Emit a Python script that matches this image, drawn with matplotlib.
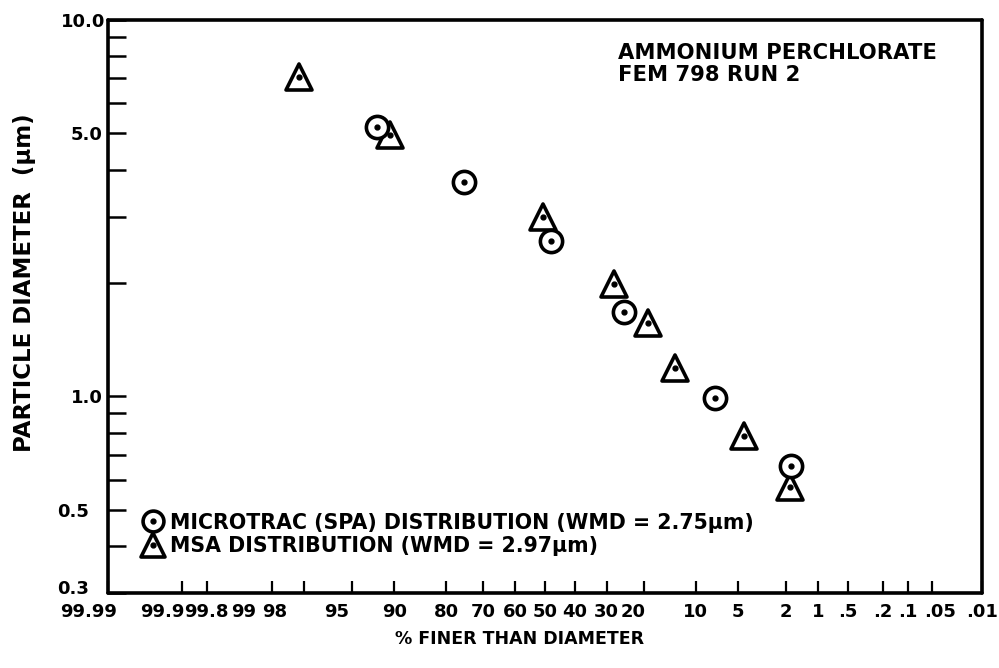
import numpy as np
import matplotlib
matplotlib.use("Agg")
import matplotlib.pyplot as plt
from matplotlib.lines import Line2D
from matplotlib.markers import MarkerStyle
from matplotlib.transforms import ScaledTranslation
from statistics import NormalDist

# % finer than diameter (probability scale) and particle diameter (um)
microtrac_pct = [92.3, 75.6, 48.0, 25.2, 7.4, 1.8]
microtrac_um = [5.19, 3.72, 2.58, 1.67, 0.99, 0.652]
msa_pct = [98.2, 90.7, 50.7, 27.9, 19.1, 13.4, 4.5, 1.85]
msa_um = [7.05, 4.94, 2.99, 1.99, 1.57, 1.19, 0.785, 0.574]

x_ticks = [99.99, 99.9, 99.8, 99, 98, 95, 90, 80, 70, 60, 50, 40, 30, 20,
           10, 5, 2, 1, 0.5, 0.2, 0.1, 0.05, 0.01]
x_tick_labels = ["99.99", "99.9", "99.8", "99", "98", "95", "90", "80", "70",
                 "60", "50", "40", "30", "20", "10", "5", "2", "1", ".5",
                 ".2", ".1", ".05", ".01"]
y_ticks = [0.3, 0.5, 1.0, 5.0, 10.0]
y_tick_labels = ["0.3", "0.5", "1.0", "5.0", "10.0"]
y_minor = [0.4, 0.6, 0.7, 0.8, 0.9, 2, 3, 4, 6, 7, 8, 9]
# hand-lettered labels sit a bit off their ticks (pixels: dx, dy up)
x_label_shift = {"99.99": (-19, 0), "99.9": (-20, 0), "99": (-28, 0), "98": (-29, 0),
                 "95": (-15, 0), "20": (-11, 0), ".05": (8, 0)}
y_label_shift = {"0.3": (-13, 6), "0.5": (-13, 0), "10.0": (3, 0)}

nd = NormalDist()
_ppf = np.vectorize(lambda v: nd.inv_cdf(v) if np.isfinite(v) else np.nan, otypes=[float])
_cdf = np.vectorize(lambda z: nd.cdf(z) if np.isfinite(z) else np.nan, otypes=[float])


def prob_forward(p):
    p = np.clip(np.asarray(p, dtype=float), 1e-5, 100 - 1e-5)
    return _ppf(p / 100.0)


def prob_inverse(z):
    return 100.0 * _cdf(np.asarray(z, dtype=float))


FONT = "DejaVu Sans"
plt.rcParams["font.family"] = FONT
plt.rcParams["font.weight"] = "bold"

fig = plt.figure(figsize=(9.99, 6.68), dpi=100)
L, R, T, B = 108, 982, 20, 593
ax = fig.add_axes([L / 999, 1 - B / 668, (R - L) / 999, (B - T) / 668])

ax.set_xscale("function", functions=(prob_forward, prob_inverse))
ax.set_yscale("log")
ax.set_xlim(99.99, 0.01)
ax.set_ylim(0.3, 10.0)

circ = MarkerStyle("o")
tri = MarkerStyle("^", joinstyle="round")
ax.plot(msa_pct, msa_um, linestyle="none", marker=tri, markersize=19, mfc="white",
        mec="black", mew=2.6, zorder=3)
ax.plot(microtrac_pct, microtrac_um, linestyle="none", marker=circ, markersize=16,
        mfc="white", mec="black", mew=2.6, zorder=4)
ax.plot(msa_pct, msa_um, linestyle="none", marker="o", markersize=3.5, color="black", zorder=5)
ax.plot(microtrac_pct, microtrac_um, linestyle="none", marker="o", markersize=3.5,
        color="black", zorder=5)

ax.set_xticks(x_ticks)
ax.set_xticklabels(x_tick_labels)
ax.xaxis.set_minor_locator(matplotlib.ticker.NullLocator())
ax.set_yticks(y_ticks)
ax.set_yticklabels(y_tick_labels)
ax.set_yticks(y_minor, minor=True)
ax.yaxis.set_minor_formatter(matplotlib.ticker.NullFormatter())

ax.tick_params(axis="x", which="both", direction="in", length=9, width=1.6,
               labelsize=13, pad=7, top=False)
ax.tick_params(axis="y", which="both", direction="in", length=13, width=1.8,
               labelsize=13, pad=4, right=False)
for labels, shifts in ((ax.get_xticklabels(), x_label_shift), (ax.get_yticklabels(), y_label_shift)):
    for lab in labels:
        lab.set_fontweight("bold")
        if lab.get_text() in shifts:
            dx, dy = shifts[lab.get_text()]
            lab.set_transform(lab.get_transform()
                              + ScaledTranslation(dx / 100, dy / 100, fig.dpi_scale_trans))

for s in ax.spines.values():
    s.set_linewidth(2.6)
    s.set_capstyle("round")

ax.set_xlabel("% FINER THAN DIAMETER", fontsize=12.5, fontweight="bold")
ax.xaxis.set_label_coords((520 - L) / (R - L), (B - 630) / (B - T))
ax.set_ylabel("PARTICLE DIAMETER  (\u03bcm)", fontsize=16.5, fontweight="bold")
ax.yaxis.set_label_coords((36 - L) / (R - L), (B - 283) / (B - T))

ax.text((618 - L) / (R - L), (B - 43) / (B - T), "AMMONIUM PERCHLORATE\nFEM 798 RUN 2",
        transform=ax.transAxes, ha="left", va="top", fontsize=15.2, fontweight="bold",
        linespacing=1.15)

h_circ = Line2D([], [], linestyle="none", marker=circ, markersize=15, mfc="white",
                mec="black", mew=2.6)
h_tri = Line2D([], [], linestyle="none", marker=tri, markersize=17, mfc="white",
               mec="black", mew=2.6)
h_dot = Line2D([], [], linestyle="none", marker="o", markersize=3.5, color="black")
ax.legend([(h_circ, h_dot), (h_tri, h_dot)],
          ["MICROTRAC (SPA) DISTRIBUTION (WMD = 2.75\u03bcm)",
           "MSA DISTRIBUTION (WMD = 2.97\u03bcm)"],
          loc="lower left", bbox_to_anchor=(0.03, 0.05), frameon=False,
          handlelength=1.0, handletextpad=0.35, labelspacing=0.17, borderaxespad=0,
          prop={"family": FONT, "weight": "bold", "size": 14.8})

fig.savefig("out.png", dpi=100)
